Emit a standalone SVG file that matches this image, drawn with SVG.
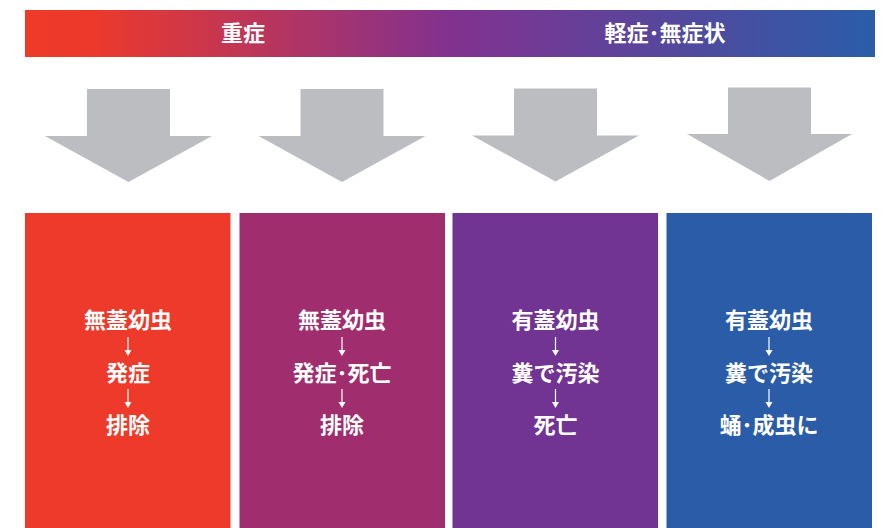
<svg xmlns="http://www.w3.org/2000/svg" width="887" height="528" viewBox="0 0 887 528">
<style>
.t{font-family:"Noto Sans CJK JP","Noto Sans CJK SC",sans-serif;font-weight:bold;fill:#fff;text-anchor:middle;dominant-baseline:central}
.h{font-size:22px}
.b{font-size:22px}
.ar{fill:#BCBDC0}
.cn{stroke:#fff;stroke-width:1.2;fill:none}
.hd{fill:#fff}
</style>
<defs>
<linearGradient id="g" x1="0" y1="0" x2="1" y2="0">
<stop offset="0" stop-color="#EF3A28"/>
<stop offset="0.08" stop-color="#EC392C"/>
<stop offset="0.5" stop-color="#82318F"/>
<stop offset="1" stop-color="#2A5DA9"/>
</linearGradient>
<path id="ah" d="M-3.5,-6 L3.5,-6 L0,0 Z"/>
</defs>
<g id="header">
<rect x="25" y="10" width="850" height="47" fill="url(#g)"/>
<text class="t h" x="243" y="31">重症</text>
<text class="t h" x="665" y="31">軽症･無症状</text>
</g>
<g id="arrow1"><polygon class="ar" points="87,89 170,89 170,136 212,136 128.5,182 45,136 87,136"/></g>
<g id="arrow2"><polygon class="ar" points="300.5,89 383.5,89 383.5,136 425.5,136 342,182 258.5,136 300.5,136"/></g>
<g id="arrow3"><polygon class="ar" points="514,88.5 597,88.5 597,135.5 639,135.5 555.5,181.5 472,135.5 514,135.5"/></g>
<g id="arrow4"><polygon class="ar" points="728,87.5 811,87.5 811,134 852,134 769.5,181 687,134 728,134"/></g>
<g id="box1">
<rect x="25" y="213" width="205.5" height="315" fill="#EE3A2A"/>
<text class="t b" x="128" y="317.5">無蓋幼虫</text>
<text class="t b" x="128" y="370.5">発症</text>
<text class="t b" x="128" y="422.5">排除</text>
</g>
<g id="box2">
<rect x="239.5" y="213" width="205.5" height="315" fill="#A02D6E"/>
<text class="t b" x="342" y="317.5">無蓋幼虫</text>
<text class="t b" x="342" y="370.5">発症･死亡</text>
<text class="t b" x="342" y="422.5">排除</text>
</g>
<g id="box3">
<rect x="452.5" y="213" width="205.5" height="315" fill="#723493"/>
<text class="t b" x="555.5" y="317.5">有蓋幼虫</text>
<text class="t b" x="555.5" y="370.5">糞で汚染</text>
<text class="t b" x="555.5" y="422.5">死亡</text>
</g>
<g id="box4">
<rect x="666.5" y="213" width="205.5" height="315" fill="#2A5CA8"/>
<text class="t b" x="769" y="317.5">有蓋幼虫</text>
<text class="t b" x="769" y="370.5">糞で汚染</text>
<text class="t b" x="769" y="422.5">蛹･成虫に</text>
</g>
<g id="connectors">
<line class="cn" x1="128" y1="337" x2="128" y2="352"/><use href="#ah" class="hd" x="128" y="356"/>
<line class="cn" x1="128" y1="389" x2="128" y2="404"/><use href="#ah" class="hd" x="128" y="408"/>
<line class="cn" x1="342" y1="337" x2="342" y2="352"/><use href="#ah" class="hd" x="342" y="356"/>
<line class="cn" x1="342" y1="389" x2="342" y2="404"/><use href="#ah" class="hd" x="342" y="408"/>
<line class="cn" x1="555.5" y1="337" x2="555.5" y2="352"/><use href="#ah" class="hd" x="555.5" y="356"/>
<line class="cn" x1="555.5" y1="389" x2="555.5" y2="404"/><use href="#ah" class="hd" x="555.5" y="408"/>
<line class="cn" x1="769" y1="337" x2="769" y2="352"/><use href="#ah" class="hd" x="769" y="356"/>
<line class="cn" x1="769" y1="389" x2="769" y2="404"/><use href="#ah" class="hd" x="769" y="408"/>
</g>
</svg>
